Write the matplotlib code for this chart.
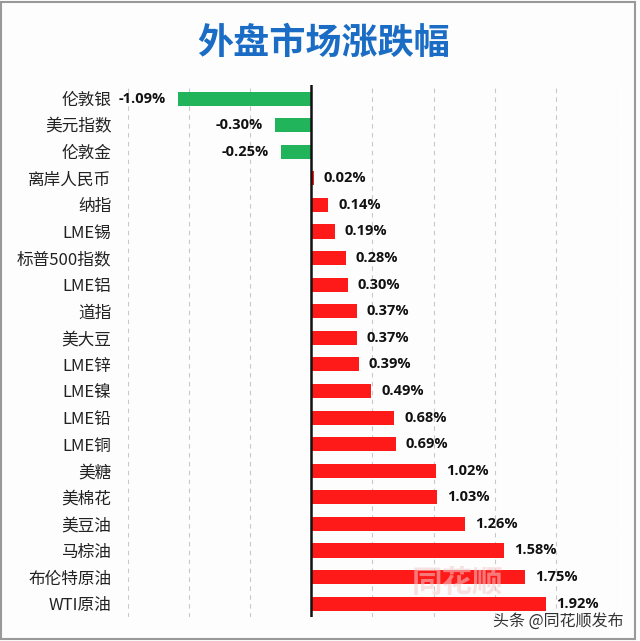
import matplotlib.pyplot as plt
import matplotlib.patches as mpatches

plt.rcParams['font.family'] = ['Noto Sans CJK SC', 'DejaVu Sans']

# Data (top to bottom)
names = ['伦敦银', '美元指数', '伦敦金', '离岸人民币', '纳指', 'LME锡', '标普500指数',
         'LME铝', '道指', '美大豆', 'LME锌', 'LME镍', 'LME铅', 'LME铜', '美糖',
         '美棉花', '美豆油', '马棕油', '布伦特原油', 'WTI原油']
changes = [-1.09, -0.30, -0.25, 0.02, 0.14, 0.19, 0.28, 0.30, 0.37, 0.37,
           0.39, 0.49, 0.68, 0.69, 1.02, 1.03, 1.26, 1.58, 1.75, 1.92]
grid_ticks = [-1.5, -1.0, -0.5, 0.5, 1.0, 1.5, 2.0, 2.5]

green = '#22b45a'
red = '#ff1a1a'

fig = plt.figure(figsize=(6.4, 6.41), dpi=100)
fig.patch.set_facecolor('#fdfdfe')
ax = fig.add_axes([0.2, 0.0375, 0.764, 0.8295])
ax.set_facecolor('#fdfdfe')

ypos = list(range(len(names)))
colors = [green if v < 0 else red for v in changes]
ax.barh(ypos, changes, height=0.53, color=colors, zorder=2)

for y, v in zip(ypos, changes):
    if v < 0:
        ax.text(v - 0.1, y, f'{v:.2f}%', ha='right', va='center',
                fontsize=10.5, fontweight='bold', family=['Open Sans', 'DejaVu Sans'], color='#111111')
    else:
        ax.text(v + 0.08, y, f'{v:.2f}%', ha='left', va='center',
                fontsize=10.5, fontweight='bold', family=['Open Sans', 'DejaVu Sans'], color='#111111')

for g in grid_ticks:
    ax.axvline(g, color='#c8c8c8', linestyle=(0, (4, 4)), linewidth=0.8, zorder=1)
ax.axvline(0, color='#111111', linewidth=1.8, zorder=3)

ax.set_xlim(-1.5, 2.5)
ax.set_ylim(len(names) - 0.5, -0.5)
ax.set_yticks(ypos)
ax.set_yticklabels(names, fontsize=12, color='#222222')
ax.tick_params(axis='y', length=0, pad=12)
ax.set_xticks([])
for s in ax.spines.values():
    s.set_visible(False)

fig.text(0.505, 0.933, '外盘市场涨跌幅', ha='center', va='center', fontsize=26,
         fontweight='bold', color='#1a6cc4')

# watermark
fig.text(0.715, 0.09, '同花顺', ha='center', va='center', fontsize=22, fontweight='bold',
         color='#f2c9c9', alpha=0.55, zorder=0)
fig.text(0.975, 0.03, '头条 @同花顺发布', ha='right', va='center', fontsize=11.5, color='#333333')

# image border
fig.add_artist(mpatches.Rectangle((0.002, 0.003), 0.99, 0.994, transform=fig.transFigure,
                                  fill=False, edgecolor='#999999', linewidth=1.5))

fig.savefig('out.png', dpi=100, facecolor=fig.get_facecolor())
